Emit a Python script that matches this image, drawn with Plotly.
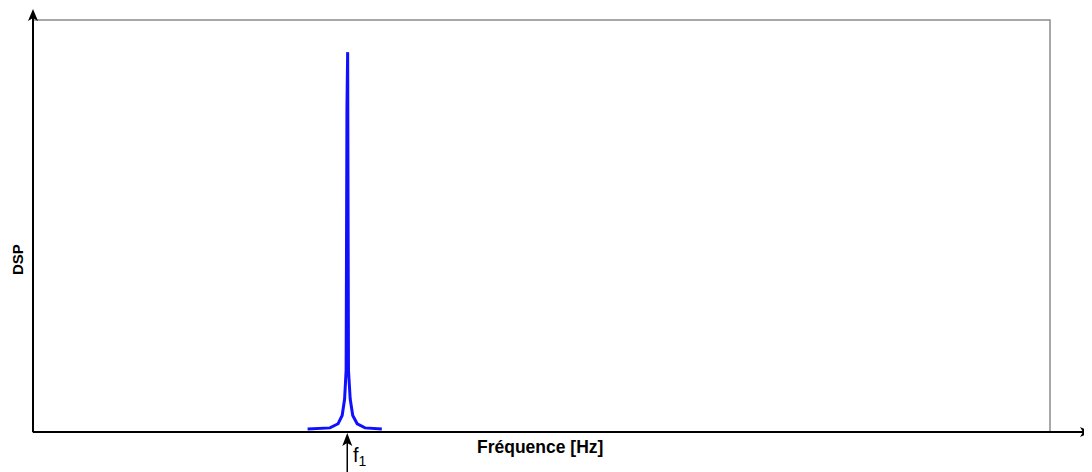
import plotly.graph_objects as go

# Spectrum (frequency in arbitrary Hz units, DSP normalised)
freq = [27.0, 29.2, 30.0, 30.4, 30.64, 30.79, 30.87, 30.94, 31.02, 31.19, 31.44, 31.88, 32.65, 34.3]
dsp = [0.007, 0.010, 0.020, 0.040, 0.080, 0.150, 0.786, 0.922, 0.150, 0.080, 0.040, 0.020, 0.010, 0.007]
f1 = 30.9
x_range = [0, 100]
y_range = [0, 1]

# page has an 8px body margin; plot area target in page pixels: x 33..1050, y 20..432
OFF = 8
PL, PT, PR, PB = 33, 20, 1050, 432
W, H = 1092 - OFF, 472 - OFF
pw, ph = PR - PL, PB - PT


def px(x):
    return (x - PL) / pw


def py(y):
    return (PB - y) / ph


def path(points):
    return "M " + " L ".join(f"{px(a):.5f},{py(b):.5f}" for a, b in points) + " Z"


f1_px = PL + (f1 - x_range[0]) / (x_range[1] - x_range[0]) * pw

fig = go.Figure()
fig.add_trace(go.Scatter(x=freq, y=dsp, mode="lines",
                         line=dict(color="#1010ff", width=3), hoverinfo="skip"))

font = "Liberation Sans, Arial, sans-serif"
black = dict(color="black", width=2)
shapes = [
    # grey frame
    dict(type="rect", xref="paper", yref="paper", x0=0, x1=1, y0=0, y1=1,
         line=dict(color="#8c8c8c", width=1.5), layer="below"),
    # y axis line + head
    dict(type="line", xref="paper", yref="paper", x0=0, x1=0, y0=0, y1=py(16), line=black),
    dict(type="path", xref="paper", yref="paper", line=dict(width=0), fillcolor="black",
         path=path([(PL, 9), (PL - 5, 21), (PL, 18), (PL + 5, 21)])),
    # x axis line + head
    dict(type="line", xref="paper", yref="paper", x0=0, x1=px(1085), y0=0, y1=0, line=black),
    dict(type="path", xref="paper", yref="paper", line=dict(width=0), fillcolor="black",
         path=path([(1092, PB), (1080, PB - 5), (1083, PB), (1080, PB + 5)])),
    # f1 arrow
    dict(type="line", xref="paper", yref="paper", x0=px(f1_px), x1=px(f1_px),
         y0=py(472), y1=py(440), line=dict(color="black", width=1.5)),
    dict(type="path", xref="paper", yref="paper", line=dict(width=0), fillcolor="black",
         path=path([(f1_px, 433), (f1_px - 5, 446), (f1_px, 443), (f1_px + 5, 446)])),
]

fig.update_layout(
    width=W, height=H,
    margin=dict(l=PL - OFF, r=1092 - PR, t=PT - OFF, b=472 - PB, pad=0),
    paper_bgcolor="white", plot_bgcolor="white", showlegend=False,
    xaxis=dict(range=x_range, showgrid=False, zeroline=False, showticklabels=False, ticks=""),
    yaxis=dict(range=y_range, showgrid=False, zeroline=False, showticklabels=False, ticks=""),
    shapes=shapes,
)

fig.add_annotation(xref="x", yref="paper", x=f1, y=py(442), xanchor="left", yanchor="top",
                   xshift=4, showarrow=False, text="f<sub>1</sub>",
                   font=dict(family=font, size=20, color="black"))
# axis titles
fig.add_annotation(xref="paper", yref="paper", x=px(540), y=py(447),
                   xanchor="center", yanchor="middle",
                   showarrow=False, text="<b>Fréquence [Hz]</b>",
                   font=dict(family=font, size=17.5, color="black"))
fig.add_annotation(xref="paper", yref="paper", x=px(18), y=py(260),
                   xanchor="center", yanchor="middle",
                   showarrow=False, text="<b>DSP</b>", textangle=-90,
                   font=dict(family=font, size=15, color="black"))

fig.write_html("out.html")
